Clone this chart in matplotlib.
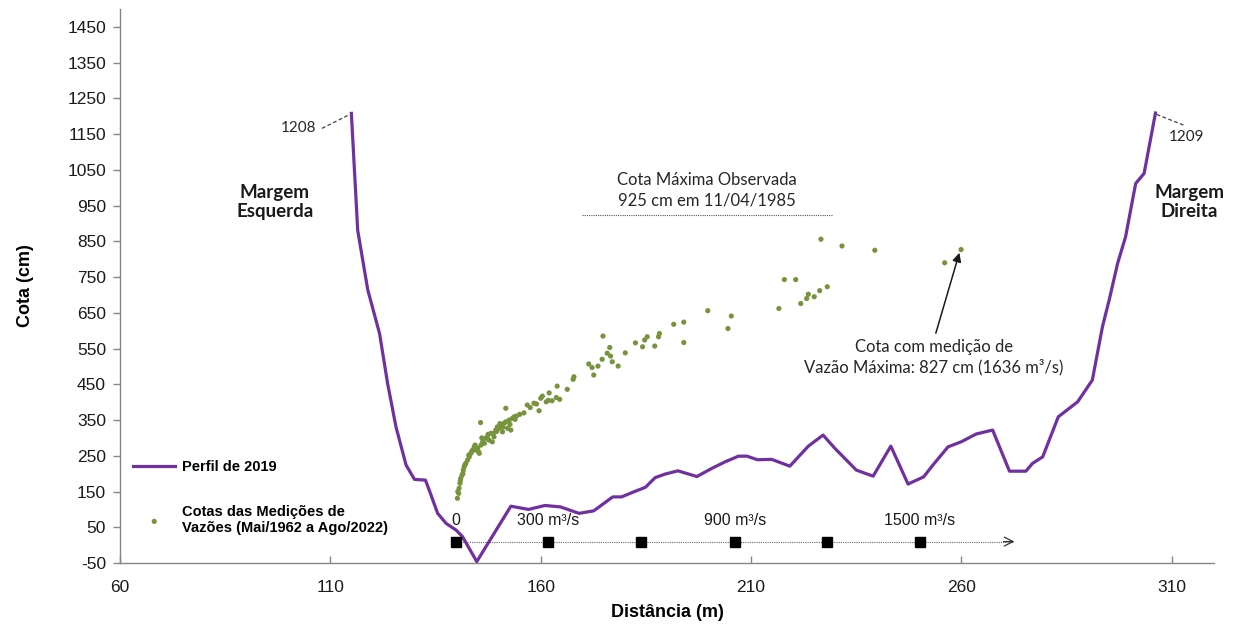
import matplotlib
matplotlib.use("Agg")
import matplotlib.pyplot as plt

plt.rcParams["axes.unicode_minus"] = False

# ---------------- data ----------------
# Perfil transversal de 2019 (distância m, cota cm)
perfil_x = [115.0, 116.5, 118.9, 121.7, 123.6, 125.6, 128.0, 130.0, 132.6, 133.5,
            135.5, 137.5, 139.9, 141.4, 144.8, 152.9, 157.1, 161.0, 164.7, 169.1,
            172.6, 177.1, 179.2, 182.1, 184.9, 187.2, 189.6, 192.6, 197.1, 200.7,
            203.8, 207.0, 209.0, 211.5, 214.9, 219.2, 223.6, 227.1, 229.9, 235.0,
            239.0, 243.2, 247.3, 251.0, 253.2, 256.8, 259.9, 263.5, 267.4, 271.4,
            275.3, 276.9, 279.3, 283.0, 287.6, 291.1, 293.5, 295.1, 297.1, 299.0,
            301.4, 303.4, 306.1]
perfil_y = [1208, 881, 714, 592, 453, 331, 224, 184, 182, 154,
            89, 61, 42, 24, -46, 109, 100, 111, 107, 89,
            96, 135, 135, 149, 162, 189, 199, 208, 192, 215,
            233, 249, 249, 239, 240, 221, 277, 308, 271, 210,
            193, 277, 171, 191, 224, 275, 289, 311, 322, 207,
            207, 229, 247, 359, 401, 462, 611, 686, 788, 863,
            1012, 1040, 1209]

# Cotas das medições de vazões (distância m, cota cm)
med_x = [140.2, 140.5, 140.6, 140.8, 141.0, 141.3, 141.6, 141.8, 142.2, 142.6,
         143.0, 143.4, 143.8, 144.2, 144.6, 145.0, 145.4, 145.8, 146.2, 146.6,
         147.0, 147.3, 147.7, 148.2, 148.5, 148.9, 149.3, 149.7, 150.1, 150.5,
         150.9, 151.3, 151.7, 152.1, 152.5, 152.9, 153.3, 153.7, 154.2, 151.7,
         145.7, 156.0, 156.8, 158.4, 159.6, 160.0, 160.4, 161.3, 162.0, 162.7,
         163.7, 163.9, 164.5, 166.3, 167.7, 167.9, 171.4, 172.2, 172.6, 173.6,
         174.6, 174.8, 175.8, 176.4, 176.6, 177.0, 178.4, 180.1, 182.5, 184.2,
         184.7, 185.3, 187.1, 188.0, 188.2, 191.6, 194.0, 194.0, 199.7, 204.5,
         205.3, 216.6, 217.9, 220.6, 221.8, 223.2, 223.6, 225.0, 226.3, 228.1,
         226.6, 231.6, 239.4, 256.0, 259.9,
         140.3, 140.9, 141.5, 142.0, 142.9, 143.6, 144.4, 145.2, 146.0, 147.5,
         148.7, 149.5, 150.3, 151.0, 152.7, 153.9, 155.0, 157.5, 159.0, 161.8]
med_y = [131, 145, 159, 173, 187, 196, 210, 219, 229, 238,
         247, 257, 266, 275, 266, 271, 257, 280, 289, 285,
         299, 303, 294, 313, 289, 303, 322, 331, 327, 336,
         317, 341, 345, 327, 350, 322, 355, 359, 361, 383,
         343, 370, 392, 397, 376, 411, 417, 401, 426, 404,
         413, 445, 408, 436, 464, 471, 507, 497, 476, 501,
         520, 585, 537, 553, 529, 513, 501, 538, 566, 555,
         574, 583, 557, 583, 592, 618, 624, 567, 656, 606,
         641, 662, 743, 743, 676, 690, 702, 695, 712, 723,
         856, 837, 825, 790, 827,
         150, 180, 200, 225, 252, 262, 280, 262, 300, 310,
         312, 318, 340, 330, 338, 352, 366, 385, 395, 405]

# Escala de vazões
escala_vazao = [0, 300, 600, 900, 1200, 1500]
escala_x = [139.9, 161.8, 183.9, 206.1, 228.1, 250.1]
escala_rotulos = ["0", "300 m³/s", "", "900 m³/s", "", "1500 m³/s"]

x_ticks = [60, 110, 160, 210, 260, 310]
y_ticks = list(range(-50, 1451, 100))

# ---------------- style ----------------
PURPLE = "#7030A0"
GREEN = "#77933C"
AX_COLOR = "#868686"
TICK_FONT = ["Liberation Sans", "DejaVu Sans"]
NOTE_FONT = ["Lato", "DejaVu Sans"]

fig = plt.figure(figsize=(12.47, 6.30), dpi=100)
ax = fig.add_axes([0.0962, 0.1063, 0.8773, 0.8794])

ax.plot(perfil_x, perfil_y, color=PURPLE, lw=2.3, solid_joinstyle="round",
        label="Perfil de 2019", zorder=3)
ax.scatter(med_x, med_y, s=14, color=GREEN, edgecolors="none", zorder=4,
           label="Cotas das Medições de\nVazões (Mai/1962 a Ago/2022)")

ax.set_xlim(60, 320)
ax.set_ylim(-50, 1500)
ax.set_xticks(x_ticks)
ax.set_yticks(y_ticks)
for s in ["top", "right"]:
    ax.spines[s].set_visible(False)
for s in ["left", "bottom"]:
    ax.spines[s].set_color(AX_COLOR)
    ax.spines[s].set_linewidth(1.0)
ax.tick_params(axis="y", direction="out", length=5, width=1, color=AX_COLOR,
               labelsize=12.5, pad=5)
ax.tick_params(axis="x", direction="in", length=5, width=1, color=AX_COLOR,
               labelsize=12.5, pad=12)
for lab in ax.get_xticklabels() + ax.get_yticklabels():
    lab.set_family(TICK_FONT)
    lab.set_color("#1a1a1a")

ax.set_xlabel("Distância (m)", fontsize=13, fontweight="bold", family=TICK_FONT,
              labelpad=7)
ax.set_ylabel("Cota (cm)", fontsize=13, fontweight="bold", family=TICK_FONT,
              labelpad=24)

# legend
leg = ax.legend(loc="upper left", bbox_to_anchor=(0.012, 0.186), frameon=False,
                borderaxespad=0, borderpad=0, handlelength=2.9, handletextpad=0.45,
                labelspacing=2.1, prop={"family": TICK_FONT, "weight": "bold", "size": 10.5},
                scatterpoints=1, markerscale=1.0)

# Annotations
ax.plot([108.0, 114.6], [1166, 1205], ls=(0, (3, 2)), color="#404040", lw=0.9)
ax.text(106.6, 1167, "1208", ha="right", va="center", fontsize=11, family=NOTE_FONT,
        color="#262626")
ax.plot([306.4, 312.8], [1205, 1175], ls=(0, (3, 2)), color="#404040", lw=0.9)
ax.text(309.3, 1141, "1209", ha="left", va="center", fontsize=11, family=NOTE_FONT,
        color="#262626")

ax.text(96.8, 960, "Margem\nEsquerda", ha="center", va="center", fontsize=13.5,
        fontweight="bold", family=NOTE_FONT, linespacing=1.2, color="#1a1a1a")
ax.text(314.1, 960, "Margem\nDireita", ha="center", va="center", fontsize=13.5,
        fontweight="bold", family=NOTE_FONT, linespacing=1.2, color="#1a1a1a")

ax.text(199.4, 993, "Cota Máxima Observada\n925 cm em 11/04/1985", ha="center",
        va="center", fontsize=12, family=NOTE_FONT, linespacing=1.3, color="#262626")
ax.plot([169.8, 229.5], [925, 925], ls=(0, (1, 1)), color="#555555", lw=0.8)

ax.annotate("", xy=(259.5, 818), xytext=(253.9, 593),
            arrowprops=dict(arrowstyle="-|>", color="#1a1a1a", lw=1.1,
                            mutation_scale=13, shrinkA=0, shrinkB=0))
ax.text(253.4, 526, "Cota com medição de\nVazão Máxima: 827 cm (1636 m³/s)",
        ha="center", va="center", fontsize=12, family=NOTE_FONT, linespacing=1.3,
        color="#262626")

# Flow scale
ax.plot([escala_x[0], 272.2], [10, 10], ls=(0, (1, 1)), color="#666666", lw=0.8,
        zorder=2)
ax.annotate("", xy=(272.6, 10), xytext=(270.0, 10),
            arrowprops=dict(arrowstyle="->", color="#333333", lw=0.9,
                            mutation_scale=16, shrinkA=0, shrinkB=0))
ax.plot(escala_x, [10] * len(escala_x), ls="none", marker="s", ms=6.5,
        color="black", zorder=5)
for xv, lab in zip(escala_x, escala_rotulos):
    if lab:
        ax.text(xv, 70, lab, ha="center", va="center", fontsize=11.5,
                family=TICK_FONT, color="#1a1a1a")

fig.savefig("out.png", dpi=100)
